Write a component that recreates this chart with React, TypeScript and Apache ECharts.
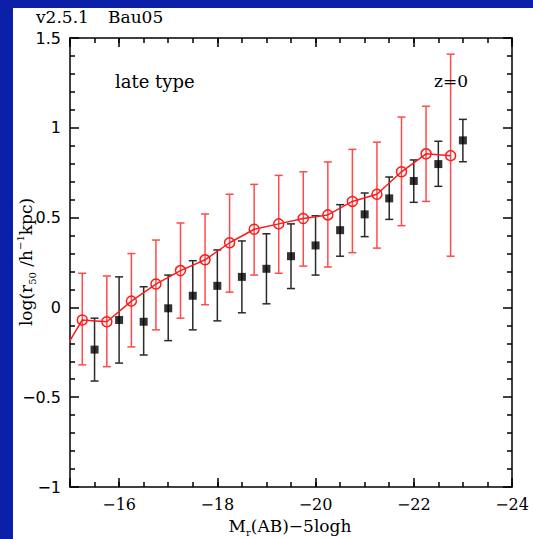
import React, { useEffect, useRef } from 'react';
import * as echarts from 'echarts';

// red model: x, median, lower, upper (first point lies outside the plotted range)
const redX = [-14.75, -15.25, -15.75, -16.25, -16.75, -17.25, -17.75, -18.25, -18.75, -19.25, -19.75, -20.25, -20.75, -21.25, -21.75, -22.25, -22.75];
const redY = [-0.3, -0.07, -0.08, 0.035, 0.13, 0.205, 0.265, 0.36, 0.435, 0.465, 0.495, 0.515, 0.59, 0.63, 0.755, 0.855, 0.845];
const redLo = [null, -0.32, -0.33, -0.22, -0.125, -0.06, 0.015, 0.085, 0.18, 0.19, 0.23, 0.225, 0.305, 0.33, 0.455, 0.59, 0.285];
const redHi = [null, 0.19, 0.175, 0.3, 0.375, 0.47, 0.52, 0.63, 0.685, 0.735, 0.755, 0.81, 0.88, 0.92, 1.06, 1.12, 1.41];

// black observations
const blackX = [-15.5, -16, -16.5, -17, -17.5, -18, -18.5, -19, -19.5, -20, -20.5, -21, -21.5, -22, -22.5, -23];
const blackY = [-0.235, -0.07, -0.08, -0.005, 0.065, 0.12, 0.17, 0.215, 0.285, 0.345, 0.43, 0.518, 0.607, 0.704, 0.798, 0.93];
const blackLo = [-0.41, -0.31, -0.265, -0.185, -0.125, -0.075, -0.03, 0.02, 0.105, 0.18, 0.285, 0.394, 0.49, 0.585, 0.674, 0.811];
const blackHi = [-0.06, 0.17, 0.115, 0.18, 0.26, 0.32, 0.37, 0.41, 0.465, 0.51, 0.572, 0.637, 0.726, 0.821, 0.925, 1.047];

const xMin = -24;
const xMax = -15;
const yMin = -1;
const yMax = 1.5;

const fmt = (v: number) => (v < 0 ? '\u2212' + String(Math.abs(v)) : String(v));

const serif = 'DejaVu Serif';
const sans = 'DejaVu Sans';

export default function App() {
  const ref = useRef<HTMLDivElement>(null);
  useEffect(() => {
    const chart = echarts.init(ref.current!, null, { renderer: 'svg' });

    const redLine = redX.map((x, i) =>
      i === 0 ? { value: [x, redY[i]], symbol: 'none' } : { value: [x, redY[i]] }
    );
    const redErr = redX
      .map((x, i) => [x, redY[i], redLo[i], redHi[i]])
      .filter((d) => d[2] !== null);
    const blackPts = blackX.map((x, i) => [x, blackY[i]]);
    const blackErr = blackX.map((x, i) => [x, blackY[i], blackLo[i], blackHi[i]]);

    const errRender = (color: string) => (params: any, api: any) => {
      const x = api.value(0);
      const lo = api.value(2);
      const hi = api.value(3);
      const t = api.coord([x, hi]);
      const b = api.coord([x, lo]);
      const cap = 4;
      const style = { stroke: color, lineWidth: 1.5 };
      return {
        type: 'group',
        children: [
          { type: 'line', shape: { x1: t[0], y1: t[1], x2: b[0], y2: b[1] }, style },
          { type: 'line', shape: { x1: t[0] - cap, y1: t[1], x2: t[0] + cap, y2: t[1] }, style },
          { type: 'line', shape: { x1: b[0] - cap, y1: b[1], x2: b[0] + cap, y2: b[1] }, style },
        ],
      };
    };

    const axisLine = { show: true, onZero: false, lineStyle: { color: '#000', width: 1.5 } };
    const noLine = { show: false, onZero: false };
    const xBase = {
      type: 'value',
      min: xMin,
      max: xMax,
      inverse: true,
      splitLine: { show: false },
    };

    const option: any = {
      animation: false,
      backgroundColor: '#0b1fa8',
      grid: { left: 70, top: 38, width: 442, height: 449, outerBoundsMode: 'none' },
      xAxis: [
        {
          ...xBase,
          position: 'bottom',
          interval: 2,
          axisLine,
          axisTick: { show: true, inside: true, length: 9, lineStyle: { color: '#000', width: 1.5 } },
          axisLabel: {
            show: true,
            margin: 9,
            color: '#000',
            fontFamily: serif,
            fontSize: 16,
            formatter: (v: number) => (v === -15 ? '' : fmt(v)),
          },
        },
        {
          ...xBase,
          position: 'bottom',
          interval: 0.5,
          axisLine: noLine,
          axisTick: { show: true, inside: true, length: 5, lineStyle: { color: '#000', width: 1.5 } },
          axisLabel: { show: false },
        },
        {
          ...xBase,
          position: 'top',
          interval: 2,
          axisLine,
          axisTick: { show: true, inside: true, length: 9, lineStyle: { color: '#000', width: 1.5 } },
          axisLabel: { show: false },
        },
        {
          ...xBase,
          position: 'top',
          interval: 0.5,
          axisLine: noLine,
          axisTick: { show: true, inside: true, length: 5, lineStyle: { color: '#000', width: 1.5 } },
          axisLabel: { show: false },
        },
      ],
      yAxis: [
        {
          type: 'value',
          position: 'left',
          min: yMin,
          max: yMax,
          interval: 0.5,
          splitLine: { show: false },
          axisLine,
          axisTick: { show: true, inside: true, length: 9, lineStyle: { color: '#000', width: 1.5 } },
          minorTick: { show: true, splitNumber: 5, length: 5, lineStyle: { color: '#000', width: 1.5 } },
          axisLabel: { show: true, margin: 9, color: '#000', fontFamily: sans, fontSize: 16, formatter: fmt },
        },
        {
          type: 'value',
          position: 'right',
          min: yMin,
          max: yMax,
          interval: 0.5,
          splitLine: { show: false },
          axisLine,
          axisTick: { show: true, inside: true, length: 9, lineStyle: { color: '#000', width: 1.5 } },
          minorTick: { show: true, splitNumber: 5, length: 5, lineStyle: { color: '#000', width: 1.5 } },
          axisLabel: { show: false },
        },
      ],
      series: [
        {
          type: 'custom',
          name: 'redErr',
          xAxisIndex: 0,
          yAxisIndex: 0,
          data: redErr,
          encode: { x: 0, y: 1 },
          renderItem: errRender('#ff4a4a'),
          z: 3,
        },
        {
          type: 'custom',
          name: 'blackErr',
          xAxisIndex: 0,
          yAxisIndex: 0,
          data: blackErr,
          encode: { x: 0, y: 1 },
          renderItem: errRender('#2a2a2a'),
          z: 3,
        },
        {
          type: 'line',
          xAxisIndex: 0,
          yAxisIndex: 0,
          data: redLine,
          symbol: 'circle',
          symbolSize: 10,
          showAllSymbol: true,
          clip: true,
          lineStyle: { color: '#ff1a1a', width: 1.5 },
          itemStyle: { color: 'rgba(0,0,0,0)', borderColor: '#ff1a1a', borderWidth: 1.5 },
          z: 4,
        },
        {
          type: 'scatter',
          xAxisIndex: 0,
          yAxisIndex: 0,
          data: blackPts,
          symbol: 'rect',
          symbolSize: 8,
          itemStyle: { color: '#000' },
          z: 5,
        },
      ],
      graphic: [
        { type: 'rect', z: -10, silent: true, shape: { x: 13, y: 8, width: 520, height: 531 }, style: { fill: '#fff' } },
        { type: 'text', z: 10, x: 36, y: 17, style: { text: 'v2.5.1', fontFamily: serif, fontSize: 17, fill: '#000', verticalAlign: 'middle' } },
        { type: 'text', z: 10, x: 108, y: 17, style: { text: 'Bau05', fontFamily: serif, fontSize: 17, fill: '#000', verticalAlign: 'middle' } },
        { type: 'text', z: 10, x: 115, y: 81, style: { text: 'late type', fontFamily: serif, fontSize: 18, fill: '#000', verticalAlign: 'middle' } },
        { type: 'text', z: 10, x: 434, y: 81, style: { text: 'z=0', fontFamily: serif, fontSize: 17, fill: '#000', verticalAlign: 'middle' } },
        {
          type: 'text',
          z: 10,
          x: 290,
          y: 526,
          style: {
            text: 'M{sub|r}(AB)\u22125logh',
            fontFamily: serif,
            fontSize: 17,
            fill: '#000',
            align: 'center',
            verticalAlign: 'middle',
            lineHeight: 22,
            rich: {
              sub: { fontFamily: serif, fontSize: 10, lineHeight: 10, verticalAlign: 'bottom', fill: '#000' },
            },
          },
        },
        {
          type: 'text',
          z: 10,
          x: 26,
          y: 262,
          rotation: Math.PI / 2,
          style: {
            text: 'log(r{sub|50} /h{sup|\u22121}kpc)',
            fontFamily: serif,
            fontSize: 17,
            fill: '#000',
            align: 'center',
            verticalAlign: 'middle',
            lineHeight: 22,
            rich: {
              sub: { fontFamily: serif, fontSize: 10, lineHeight: 10, verticalAlign: 'bottom', fill: '#000' },
              sup: { fontFamily: serif, fontSize: 10, lineHeight: 10, verticalAlign: 'top', fill: '#000' },
            },
          },
        },
      ],
    };

    chart.setOption(option);
    return () => chart.dispose();
  }, []);
  return <div ref={ref} style={{ position: 'fixed', left: 0, top: 0, width: 533, height: 539 }} />;
}
